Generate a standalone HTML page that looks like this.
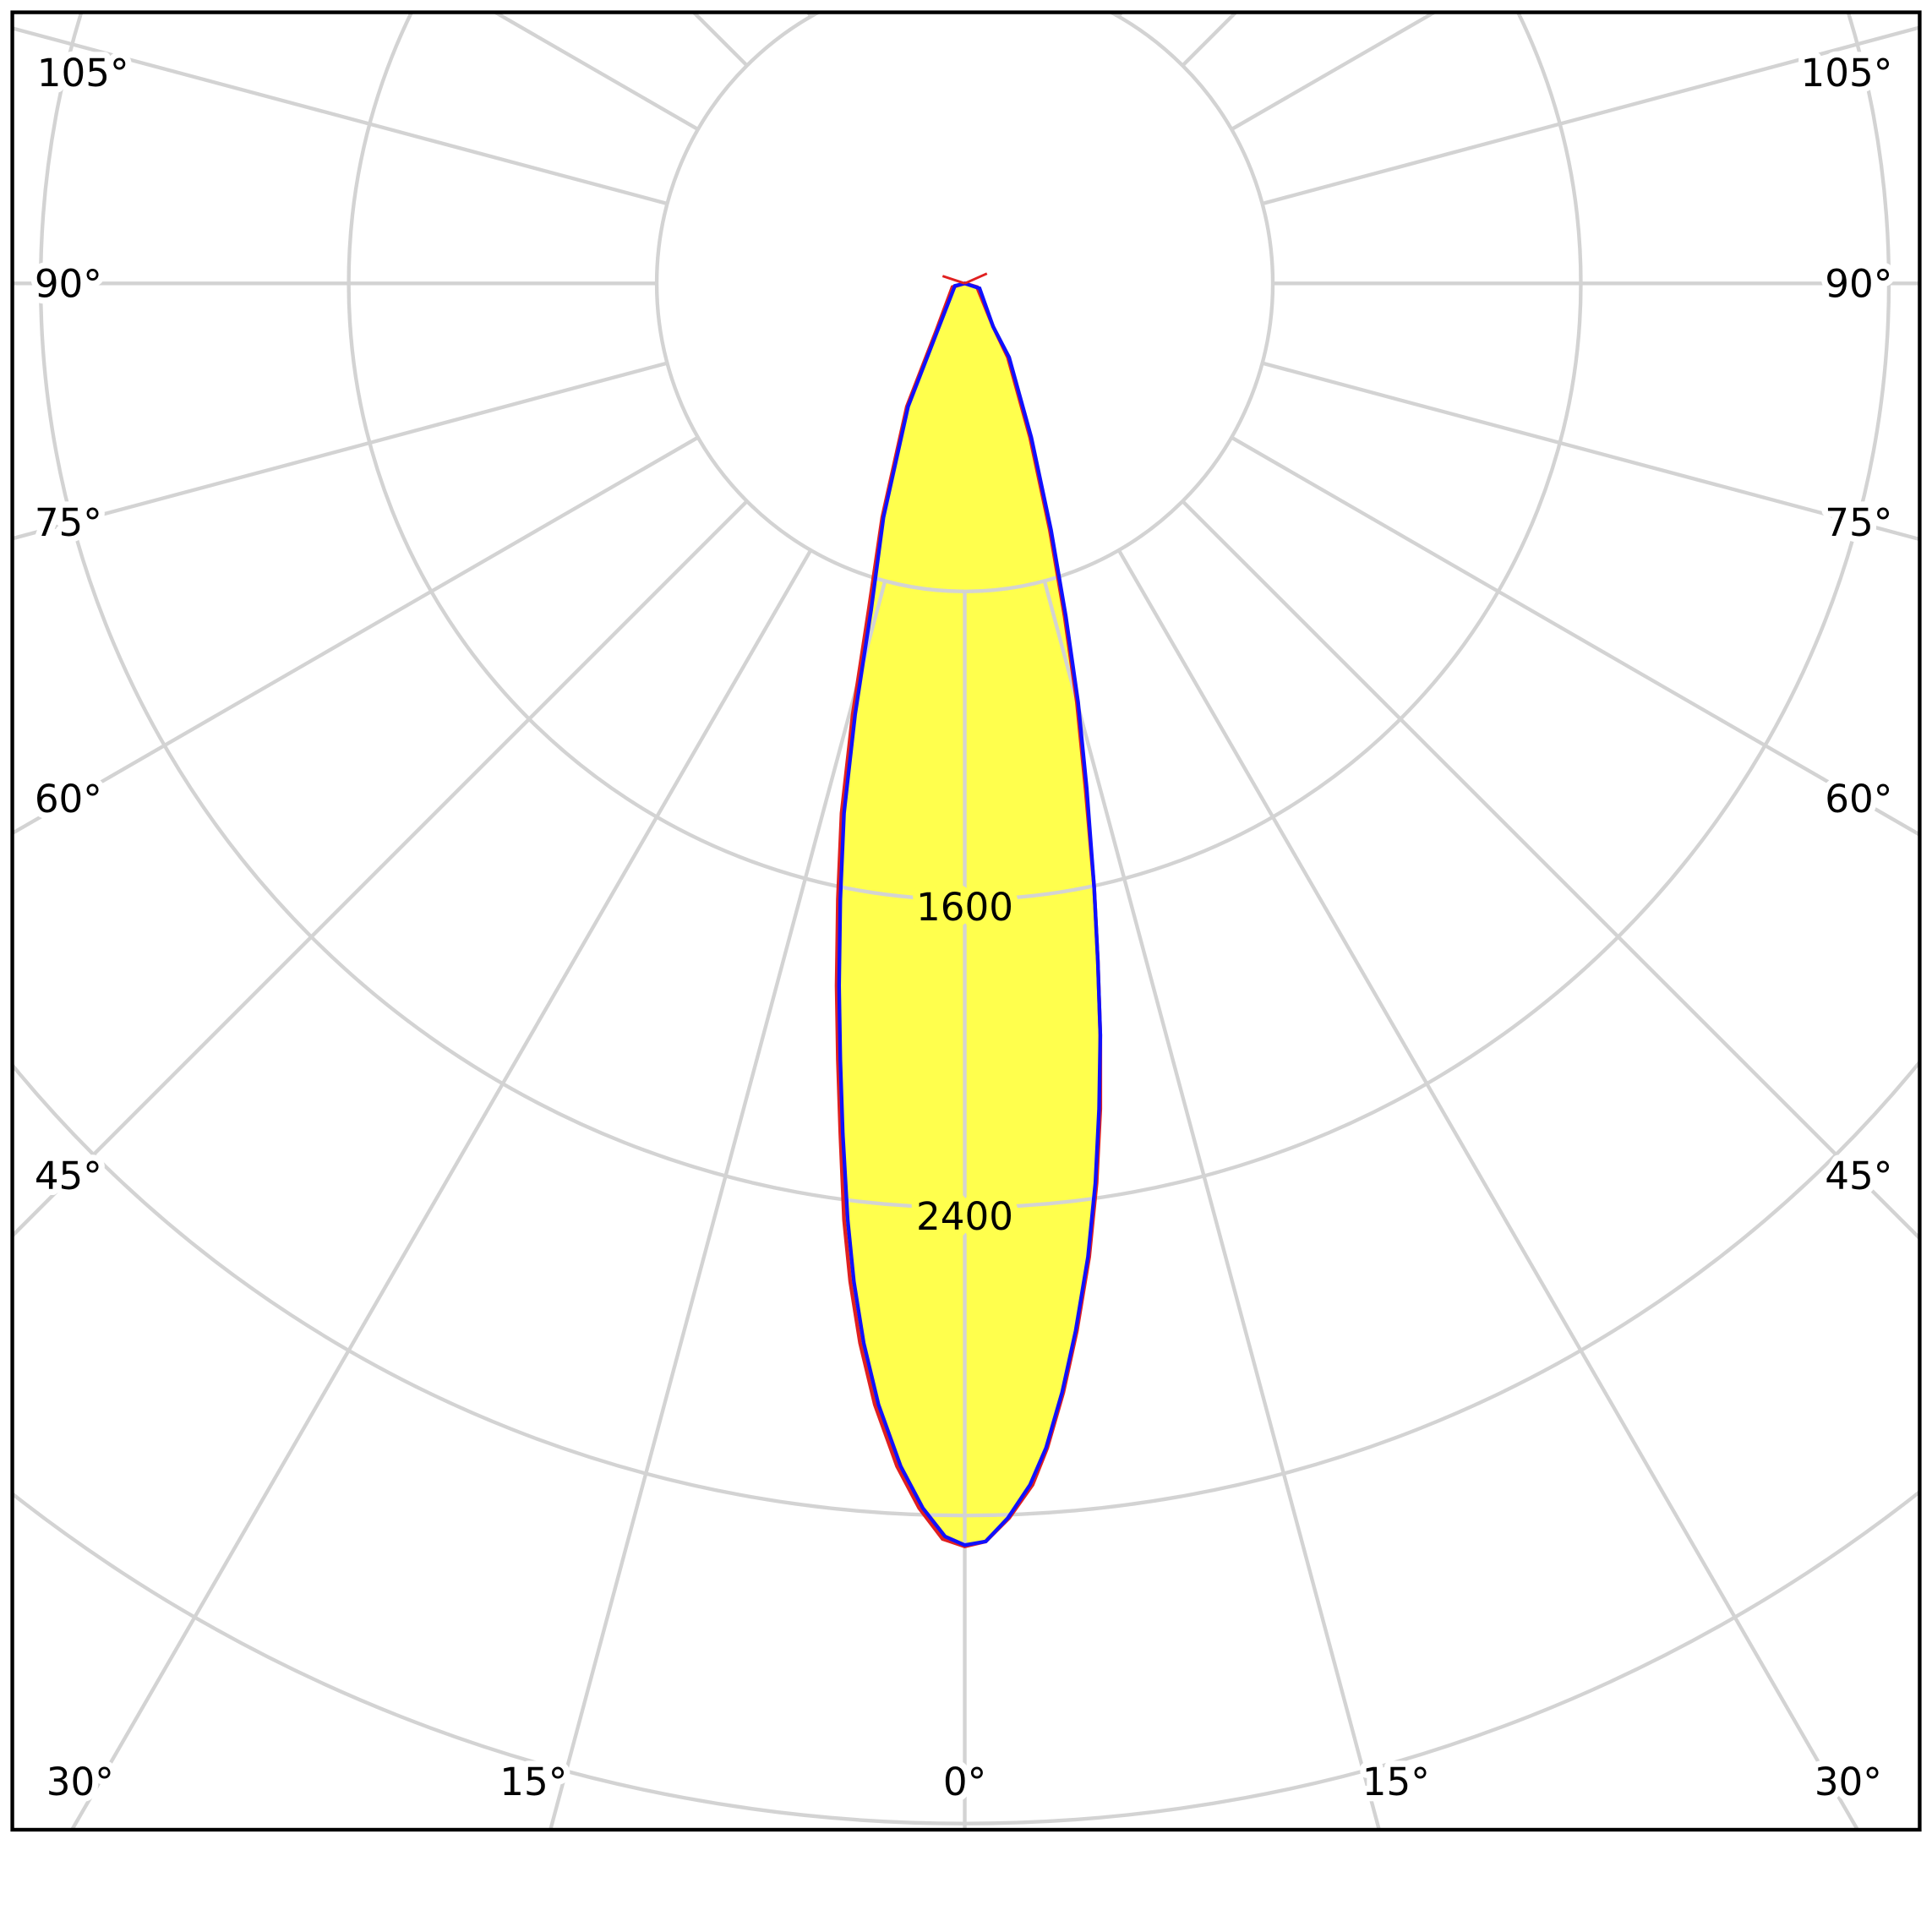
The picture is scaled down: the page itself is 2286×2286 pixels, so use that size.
<!DOCTYPE html>
<html><head><meta charset="utf-8"><style>html,body{margin:0;padding:0;background:#fff;width:2286px;height:2286px;overflow:hidden}svg{display:block}</style></head>
<body>
<svg width="2286" height="2286" viewBox="0 0 1568 1568" xmlns="http://www.w3.org/2000/svg">
<defs><clipPath id="c"><rect x="10" y="10" width="1548" height="1475"/></clipPath></defs>
<rect width="1568" height="1568" fill="#fff"/>
<path d="M783,230 L773,233 L760,268 L736,330 L716,420 L705,495 L692,580 L683,660 L680,730 L679,800 L680,860 L682,920 L685,990 L690,1040 L698,1090 L710,1140 L728,1190 L746,1224 L765,1249 L783,1255 L800,1251 L819,1232 L838,1205 L850,1175 L863,1130 L874,1080 L884,1020 L890,960 L893,900 L893,840 L891,780 L888,720 L881,640 L874,570 L864,500 L852,430 L836,355 L818,290 L806,265 L793,233 Z" fill="#ffff4d"/>
<g clip-path="url(#c)" stroke="#d3d3d3" stroke-width="3" fill="none">
<circle cx="783" cy="230" r="250"/>
<circle cx="783" cy="230" r="500"/>
<circle cx="783" cy="230" r="750"/>
<circle cx="783" cy="230" r="1000"/>
<circle cx="783" cy="230" r="1250"/>
<line x1="783" y1="480" x2="783" y2="2000"/>
<line x1="783" y1="480" x2="783" y2="2000" transform="rotate(15 783 230)"/>
<line x1="783" y1="480" x2="783" y2="2000" transform="rotate(30 783 230)"/>
<line x1="783" y1="480" x2="783" y2="2000" transform="rotate(45 783 230)"/>
<line x1="783" y1="480" x2="783" y2="2000" transform="rotate(60 783 230)"/>
<line x1="783" y1="480" x2="783" y2="2000" transform="rotate(75 783 230)"/>
<line x1="783" y1="480" x2="783" y2="2000" transform="rotate(90 783 230)"/>
<line x1="783" y1="480" x2="783" y2="2000" transform="rotate(105 783 230)"/>
<line x1="783" y1="480" x2="783" y2="2000" transform="rotate(120 783 230)"/>
<line x1="783" y1="480" x2="783" y2="2000" transform="rotate(135 783 230)"/>
<line x1="783" y1="480" x2="783" y2="2000" transform="rotate(150 783 230)"/>
<line x1="783" y1="480" x2="783" y2="2000" transform="rotate(-15 783 230)"/>
<line x1="783" y1="480" x2="783" y2="2000" transform="rotate(-30 783 230)"/>
<line x1="783" y1="480" x2="783" y2="2000" transform="rotate(-45 783 230)"/>
<line x1="783" y1="480" x2="783" y2="2000" transform="rotate(-60 783 230)"/>
<line x1="783" y1="480" x2="783" y2="2000" transform="rotate(-75 783 230)"/>
<line x1="783" y1="480" x2="783" y2="2000" transform="rotate(-90 783 230)"/>
<line x1="783" y1="480" x2="783" y2="2000" transform="rotate(-105 783 230)"/>
<line x1="783" y1="480" x2="783" y2="2000" transform="rotate(-120 783 230)"/>
<line x1="783" y1="480" x2="783" y2="2000" transform="rotate(-135 783 230)"/>
<line x1="783" y1="480" x2="783" y2="2000" transform="rotate(-150 783 230)"/>
</g>
<g font-family="DejaVu Sans, Liberation Sans, sans-serif" font-size="31" fill="#000" stroke="#ffff4d" stroke-width="12" paint-order="stroke" stroke-linejoin="round">
<text x="783" y="747" text-anchor="middle">1600</text>
<text x="783" y="998" text-anchor="middle">2400</text>
</g>
<path d="M783,230 L773,233 L760,268 L736,330 L716,420 L705,495 L692,580 L683,660 L680,730 L679,800 L680,860 L682,920 L685,990 L690,1040 L698,1090 L710,1140 L728,1190 L746,1224 L765,1249 L783,1255 L800,1251 L819,1232 L838,1205 L850,1175 L863,1130 L874,1080 L884,1020 L890,960 L893,900 L893,840 L891,780 L888,720 L881,640 L874,570 L864,500 L852,430 L836,355 L818,290 L806,265 L793,233 Z" fill="none" stroke="#e02020" stroke-width="3"/>
<path d="M783,230 L775,232 L761,268 L737,330 L717,420 L707,495 L694,580 L685,660 L682,730 L681,800 L682,860 L684,920 L688,990 L693,1040 L701,1090 L713,1140 L731,1190 L749,1224 L767,1247 L783,1254 L800,1251 L818,1232 L836,1205 L849,1175 L862,1130 L873,1080 L883,1020 L889,960 L892,900 L893,840 L891,780 L888,720 L882,640 L875,570 L865,500 L853,430 L837,355 L819,290 L806,265 L795,234 Z" fill="none" stroke="#1010ff" stroke-width="3"/>
<line x1="765" y1="224" x2="783" y2="230" stroke="#e02020" stroke-width="2"/>
<line x1="801" y1="222" x2="783" y2="230" stroke="#e02020" stroke-width="2"/>
<g font-family="DejaVu Sans, Liberation Sans, sans-serif" font-size="31" fill="#000" stroke="#fff" stroke-width="10" paint-order="stroke" stroke-linejoin="round">
<text x="30" y="70">105°</text>
<text x="28" y="241">90°</text>
<text x="28" y="435">75°</text>
<text x="28" y="659">60°</text>
<text x="28" y="965">45°</text>
<text x="1536" y="70" text-anchor="end">105°</text>
<text x="1536" y="241" text-anchor="end">90°</text>
<text x="1536" y="435" text-anchor="end">75°</text>
<text x="1536" y="659" text-anchor="end">60°</text>
<text x="1536" y="965" text-anchor="end">45°</text>
<text x="65" y="1457" text-anchor="middle">30°</text>
<text x="433" y="1457" text-anchor="middle">15°</text>
<text x="783" y="1457" text-anchor="middle">0°</text>
<text x="1133" y="1457" text-anchor="middle">15°</text>
<text x="1500" y="1457" text-anchor="middle">30°</text>
</g>
<rect x="10" y="10" width="1548" height="1475" fill="none" stroke="#000" stroke-width="3"/>
</svg>
</body></html>
